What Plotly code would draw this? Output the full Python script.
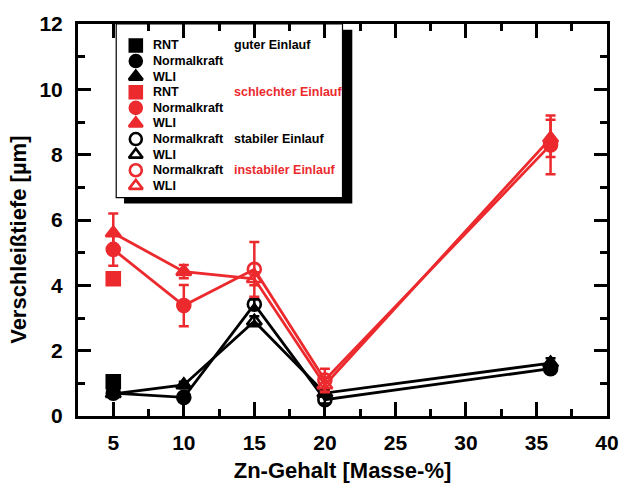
import plotly.graph_objects as go

# Zn content [mass-%]
zn = [5, 10, 15, 20, 36]

# Wear depth [µm] with standard deviations
rnt_good_x = [5]
rnt_good_y = [1.05]
rnt_good_err = [0.10]

rnt_bad_x = [5]
rnt_bad_y = [4.20]
rnt_bad_err = [0.17]

nk_black_y = [0.70, 0.57, 3.42, 0.50, 1.45]
nk_black_err = [0.10, 0.10, 0.15, 0.12, 0.15]
wli_black_y = [0.68, 0.95, 2.90, 0.70, 1.62]
wli_black_err = [0.08, 0.10, 0.15, 0.10, 0.15]

nk_red_y = [5.10, 3.38, 4.49, 1.10, 8.30]
nk_red_err = [0.50, 0.63, 0.84, 0.35, 0.90]
wli_red_y = [5.60, 4.42, 4.20, 0.95, 8.50]
wli_red_err = [0.60, 0.20, 0.20, 0.22, 0.57]

# filled = good/bad run-in, open = stable/unstable run-in
filled = [True, True, False, False, True]

BLACK = "#000000"
RED = "#ec2a2e"
FONT = "Liberation Sans, Arial, sans-serif"

fig = go.Figure()


def err(arr, color):
    return dict(type="data", array=arr, visible=True, color=color,
                thickness=2.5, width=5)


def series(x, y, e, color, base, mode="lines+markers", flags=None):
    if flags is None:
        flags = [True] * len(x)
    symbols = [base if f else base + "-open" for f in flags]
    fig.add_trace(go.Scatter(
        x=x, y=y, mode=mode, error_y=err(e, color),
        line=dict(color=color, width=2.8),
        marker=dict(symbol=symbols, size=13, color=color,
                    line=dict(color=color, width=2.6)),
        showlegend=False, xaxis="x", yaxis="y"))


series(rnt_good_x, rnt_good_y, rnt_good_err, BLACK, "square", mode="markers")
series(zn, nk_black_y, nk_black_err, BLACK, "circle", flags=filled)
series(zn, wli_black_y, wli_black_err, BLACK, "triangle-up", flags=filled)
series(rnt_bad_x, rnt_bad_y, rnt_bad_err, RED, "square", mode="markers")
series(zn, nk_red_y, nk_red_err, RED, "circle", flags=filled)
series(zn, wli_red_y, wli_red_err, RED, "triangle-up", flags=filled)

# ---- legend box (overlay axes measured in pixels from the plot's top-left) ----
legend_rows = [
    ("square", BLACK, "RNT", "guter Einlauf", BLACK),
    ("circle", BLACK, "Normalkraft", None, None),
    ("triangle-up", BLACK, "WLI", None, None),
    ("square", RED, "RNT", "schlechter Einlauf", RED),
    ("circle", RED, "Normalkraft", None, None),
    ("triangle-up", RED, "WLI", None, None),
    ("circle-open", BLACK, "Normalkraft", "stabiler Einlauf", BLACK),
    ("triangle-up-open", BLACK, "WLI", None, None),
    ("circle-open", RED, "Normalkraft", "instabiler Einlauf", RED),
    ("triangle-up-open", RED, "WLI", None, None),
]
row0, row_step = 22, 16
key_x, text_x, group_x = 59, 75, 157

fig.add_shape(type="rect", xref="x2", yref="y2", x0=47, y0=6, x1=280, y1=184,
              fillcolor=BLACK, line=dict(width=0), layer="below")
fig.add_shape(type="rect", xref="x2", yref="y2", x0=39, y0=0, x1=270, y1=178,
              fillcolor="white", line=dict(color=BLACK, width=1.2), layer="below")

for i, (sym, col, label, group, gcol) in enumerate(legend_rows):
    yy = row0 + i * row_step
    fig.add_trace(go.Scatter(
        x=[key_x], y=[yy], mode="markers", xaxis="x2", yaxis="y2",
        marker=dict(symbol=sym, size=12, color=col, line=dict(color=col, width=2.6)),
        showlegend=False, hoverinfo="skip"))
    fig.add_annotation(x=text_x, y=yy, xref="x2", yref="y2", text=label,
                       showarrow=False, xanchor="left", yanchor="middle",
                       font=dict(family=FONT, size=12.5, color=BLACK, weight="bold"))
    if group:
        fig.add_annotation(x=group_x, y=yy, xref="x2", yref="y2", text=group,
                           showarrow=False, xanchor="left", yanchor="middle",
                           font=dict(family=FONT, size=12.5, color=gcol, weight="bold"))

# y-axis title, set slightly below the vertical centre of the frame
fig.add_annotation(x=-0.113, y=0.45, xref="paper", yref="paper",
                   text="Verschleißtiefe [µm]",
                   textangle=-90, showarrow=False, xanchor="center", yanchor="middle",
                   font=dict(family=FONT, size=22, color=BLACK, weight="bold"))

axis_common = dict(
    showline=True, linecolor=BLACK, linewidth=3, mirror="ticks",
    ticks="inside", tickcolor=BLACK, tickwidth=2.5, showgrid=False, zeroline=False,
    tickfont=dict(family=FONT, size=21, color=BLACK, weight="bold"),
)

fig.update_layout(
    width=631, height=492,
    margin=dict(l=78, r=13, t=15, b=75),
    paper_bgcolor="white", plot_bgcolor="white",
    showlegend=False,
    xaxis=dict(
        range=[2.5, 40], tickvals=[5, 10, 15, 20, 25, 30, 35, 40], ticklen=14,
        minor=dict(dtick=2.5, ticks="inside", ticklen=7, tickwidth=2.5, tickcolor=BLACK,
                   showgrid=False),
        ticklabelstandoff=6,
        title=dict(text="Zn-Gehalt [Masse-%]", standoff=10,
                   font=dict(family=FONT, size=22, color=BLACK, weight="bold")),
        **axis_common),
    yaxis=dict(
        range=[0, 12], tickvals=[0, 2, 4, 6, 8, 10, 12], ticklen=13,
        minor=dict(dtick=1, ticks="inside", ticklen=7, tickwidth=2.5, tickcolor=BLACK,
                   showgrid=False),
        ticklabelstandoff=8,
        **axis_common),
    xaxis2=dict(range=[0, 540], overlaying="x", anchor="y2", visible=False,
                fixedrange=True),
    yaxis2=dict(range=[402, 0], overlaying="y", anchor="x2", visible=False,
                fixedrange=True),
)

fig.write_html("out.html")
